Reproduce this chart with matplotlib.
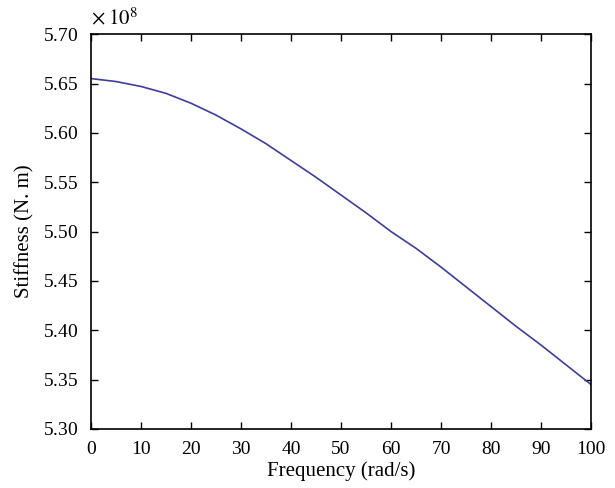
import matplotlib
matplotlib.use("Agg")
import matplotlib.pyplot as plt
from matplotlib.ticker import ScalarFormatter, MultipleLocator

# frequency (rad/s) and stiffness (N.m)
freq = [0, 5, 10, 15, 20, 25, 30, 35, 40, 45, 50,
        55, 60, 65, 70, 75, 80, 85, 90, 95, 100]
stiff = [5.655, 5.652, 5.647, 5.640, 5.630, 5.618, 5.604, 5.589, 5.572, 5.555, 5.537,
         5.519, 5.500, 5.483, 5.464, 5.444, 5.424, 5.404, 5.385, 5.365, 5.345]
stiff = [s * 1e8 for s in stiff]

plt.rcParams['font.family'] = ['Liberation Serif', 'DejaVu Serif']
plt.rcParams['mathtext.fontset'] = 'stix'

fig = plt.figure(figsize=(6.15, 4.88), dpi=100)
ax = fig.add_axes([0.148, 0.121, 0.813, 0.809])

ax.plot(freq, stiff, color='#3d3d9c', lw=1.2)

ax.set_xlim(0, 100)
ax.set_ylim(5.30e8, 5.70e8)
ax.xaxis.set_major_locator(MultipleLocator(10))
ax.yaxis.set_major_locator(MultipleLocator(0.05e8))

# tick labels in units of 1e8, exponent written above the axis
fmt = ScalarFormatter(useMathText=True)
fmt.set_powerlimits((0, 0))
ax.yaxis.set_major_formatter(fmt)
ax.yaxis.get_offset_text().set_visible(False)
ax.text(0.0, 1.012, r'$\times\;10^{8}$', transform=ax.transAxes,
        fontsize=15, ha='left', va='bottom')

ax.tick_params(direction='in', top=True, right=True, length=5, width=1,
               labelsize=14, pad=9)
for sp in ax.spines.values():
    sp.set_linewidth(1.2)

ax.set_xlabel('Frequency (rad/s)', fontsize=15, labelpad=2)
ax.set_ylabel('Stiffness (N. m)', fontsize=15, labelpad=6)

fig.savefig('out.png', dpi=100)
